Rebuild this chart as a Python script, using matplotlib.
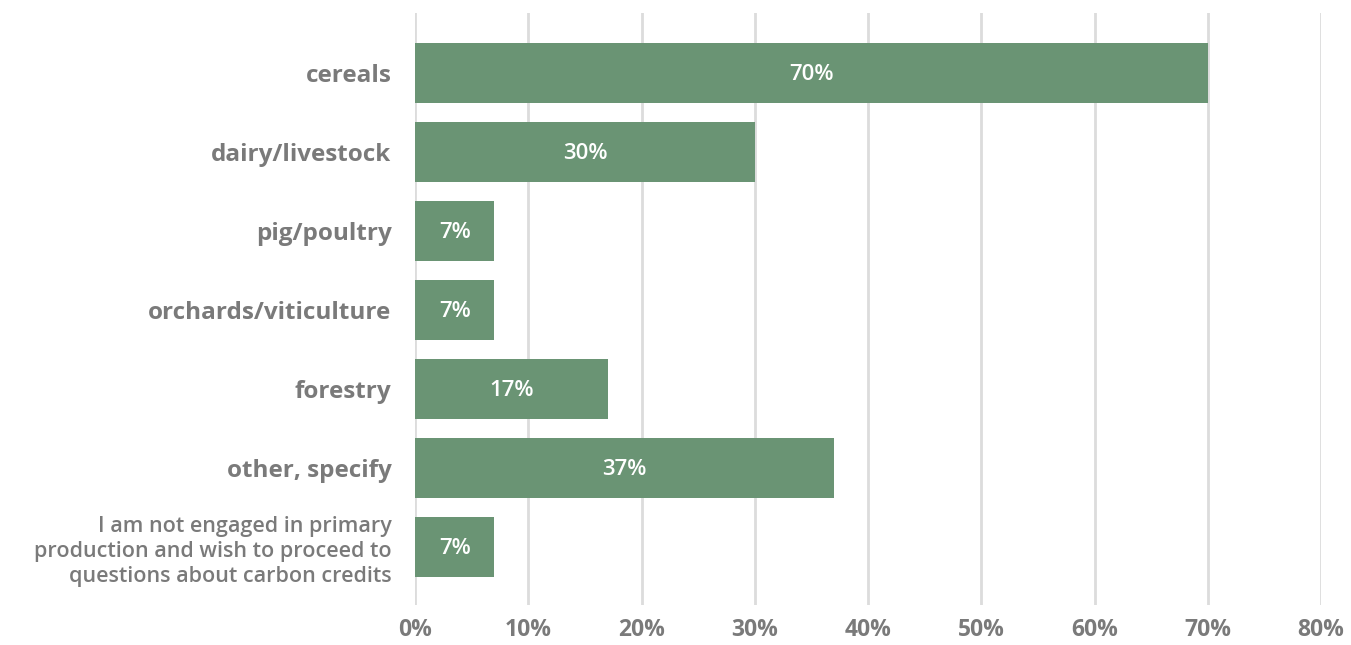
import matplotlib.pyplot as plt
from matplotlib.ticker import MultipleLocator, PercentFormatter

categories = [
    "cereals",
    "dairy/livestock",
    "pig/poultry",
    "orchards/viticulture",
    "forestry",
    "other, specify",
    "I am not engaged in primary\nproduction and wish to proceed to\nquestions about carbon credits",
]
shares = [70, 30, 7, 7, 17, 37, 7]

bar_color = "#6a9474"
text_grey = "#7a7a7a"
grid_grey = "#dcdcdc"

plt.rcParams["font.family"] = ["Open Sans", "DejaVu Sans"]

fig = plt.figure(figsize=(13.51, 6.45), dpi=100)
ax = fig.add_axes([415 / 1351, 1 - 605 / 645, (1321 - 415) / 1351, (605 - 13) / 645])

pos = list(range(len(categories)))
bars = ax.barh(pos, shares, height=0.76, color=bar_color, zorder=2)

for b, v in zip(bars, shares):
    ax.text(b.get_width() / 2, b.get_y() + b.get_height() / 2 + 0.02, f"{v}%",
            ha="center", va="center", color="white", fontsize=16,
            fontweight="semibold", zorder=3)

ax.set_xlim(0, 80)
ax.set_ylim(6.73, -0.76)
ax.xaxis.set_major_locator(MultipleLocator(10))
ax.xaxis.set_major_formatter(PercentFormatter(decimals=0))
ax.grid(axis="x", color=grid_grey, linewidth=2, zorder=0)
ax.set_axisbelow(True)

ax.set_yticks(pos)
ax.set_yticklabels(categories)
for i, lab in enumerate(ax.get_yticklabels()):
    lab.set_color(text_grey)
    if i == len(categories) - 1:
        lab.set_fontsize(15.5)
        lab.set_fontweight("semibold")
        lab.set_linespacing(1.25)
    else:
        lab.set_fontsize(17.5)
        lab.set_fontweight("bold")

ax.tick_params(axis="y", length=0, pad=17)
ax.tick_params(axis="x", length=0, pad=9, labelsize=16.5, labelcolor=text_grey)
for lab in ax.get_xticklabels():
    lab.set_fontweight("bold")

for s in ax.spines.values():
    s.set_visible(False)

fig.savefig("out.png", dpi=100)
